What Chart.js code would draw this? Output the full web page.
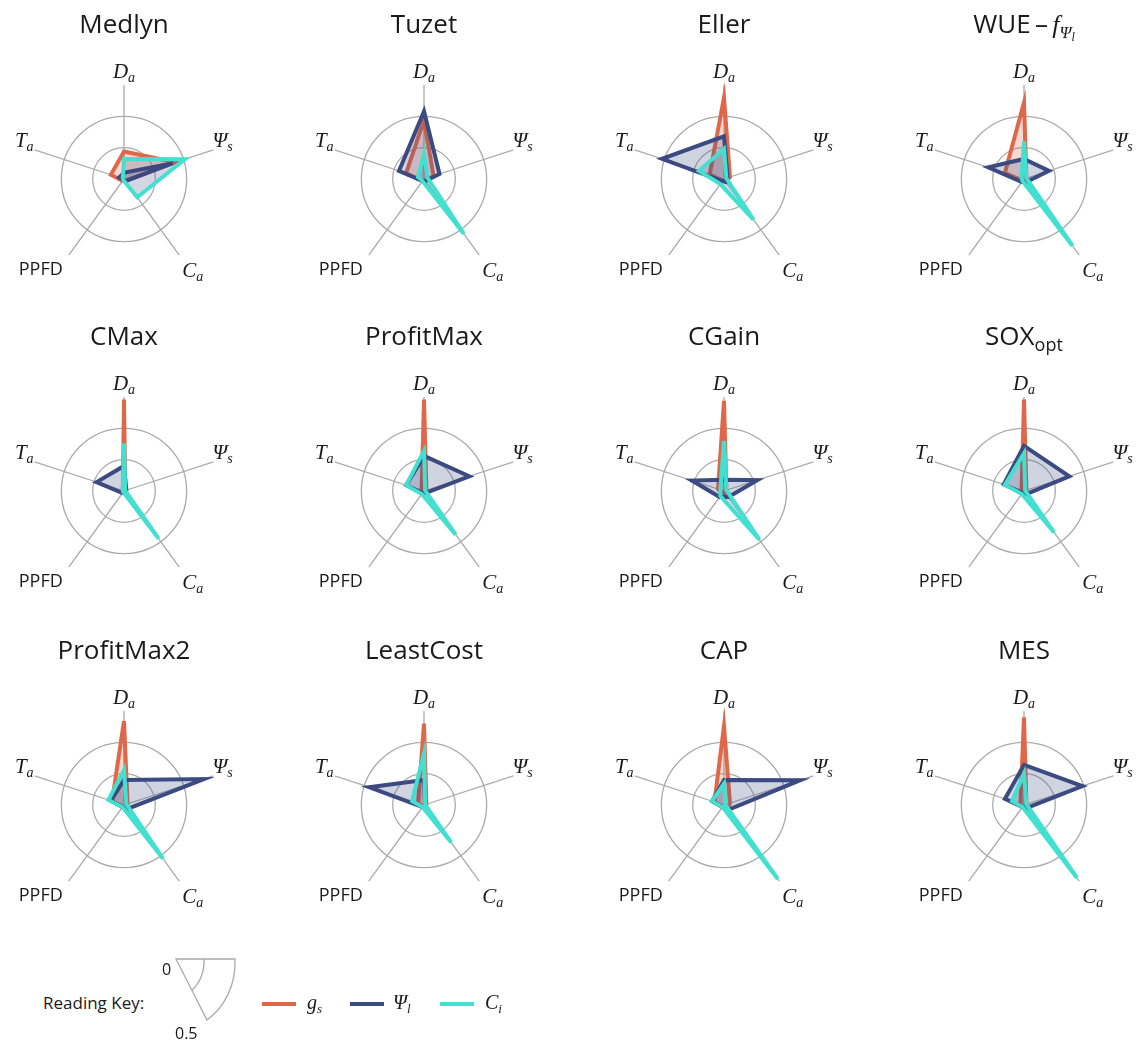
<!DOCTYPE html>
<html>
<head>
<meta charset="utf-8">
<script src="https://cdn.jsdelivr.net/npm/chart.js@4/dist/chart.umd.min.js"></script>
<style>
  html, body { margin: 0; padding: 0; background: #fff; }
  #page { position: relative; width: 1142px; height: 1043px; overflow: hidden;
          font-family: 'Open Sans', sans-serif; color: #1a1a1a; }
  #page canvas { position: absolute; }
  .title { position: absolute; width: 300px; text-align: center; font-size: 26px;
           line-height: 30px; white-space: nowrap; }
  .title .sub { font-size: 18px; position: relative; top: 6px; }
  .it { font-family: 'Liberation Serif', serif; font-style: italic; }
  .key { position: absolute; font-size: 17px; line-height: 22px; white-space: nowrap; }
  .swatch { position: absolute; width: 34px; height: 4px; }
  .lg { position: absolute; font-family: 'Liberation Serif', serif; font-style: italic;
        font-size: 20px; line-height: 22px; }
  .lg sub { font-size: 13px; vertical-align: baseline; position: relative; top: 4px; }
</style>
</head>
<body>
<div id="page"></div>
<script>
// Model names and their display titles
const models = ['Medlyn', 'Tuzet', 'Eller', 'WUE-fΨl', 'CMax', 'ProfitMax',
                'CGain', 'SOXopt', 'ProfitMax2', 'LeastCost', 'CAP', 'MES'];
const titles = ['Medlyn', 'Tuzet', 'Eller',
                'WUE\u2009\u2013\u2009<span class="it">f</span><span class="it" style="font-size:17px;position:relative;top:5px">Ψ<span style="font-size:12px;position:relative;top:3px">l</span></span>',
                'CMax', 'ProfitMax', 'CGain', 'SOX<span class="sub">opt</span>',
                'ProfitMax2', 'LeastCost', 'CAP', 'MES'];

// Radar axes (clockwise from the top): D_a, Ψ_s, C_a, PPFD, T_a
const axisMain = ['D', 'Ψ', 'C', 'PPFD', 'T'];
const axisSub  = ['a', 's', 'a', '', 'a'];

// Sensitivity of each output to each driver, one row per model
const gs = [
  [0.22, 0.43, 0.02, 0.02, 0.11],
  [0.47, 0.08, 0.02, 0.02, 0.15],
  [0.65, 0.05, 0.02, 0.02, 0.12],
  [0.61, 0.02, 0.02, 0.02, 0.16],
  [0.73, 0.01, 0.01, 0.01, 0.01],
  [0.73, 0.02, 0.02, 0.02, 0.02],
  [0.72, 0.02, 0.02, 0.02, 0.05],
  [0.73, 0.02, 0.02, 0.02, 0.02],
  [0.67, 0.03, 0.02, 0.02, 0.10],
  [0.65, 0.02, 0.02, 0.02, 0.05],
  [0.63, 0.05, 0.05, 0.02, 0.08],
  [0.70, 0.02, 0.02, 0.02, 0.03]
];
const psiL = [
  [0.05, 0.41, 0.02, 0.01, 0.04],
  [0.54, 0.13, 0.02, 0.02, 0.21],
  [0.34, 0.03, 0.03, 0.02, 0.52],
  [0.16, 0.21, 0.03, 0.03, 0.30],
  [0.20, 0.02, 0.02, 0.02, 0.23],
  [0.28, 0.38, 0.02, 0.02, 0.15],
  [0.09, 0.28, 0.06, 0.06, 0.27],
  [0.36, 0.38, 0.03, 0.02, 0.17],
  [0.20, 0.67, 0.04, 0.02, 0.11],
  [0.20, 0.01, 0.02, 0.02, 0.46],
  [0.20, 0.64, 0.05, 0.02, 0.10],
  [0.32, 0.49, 0.03, 0.02, 0.16]
];
const ci = [
  [0.16, 0.51, 0.18, 0.01, 0.01],
  [0.20, 0.03, 0.54, 0.02, 0.05],
  [0.24, 0.02, 0.40, 0.05, 0.21],
  [0.30, 0.02, 0.66, 0.02, 0.02],
  [0.38, 0.01, 0.47, 0.01, 0.01],
  [0.32, 0.01, 0.43, 0.03, 0.15],
  [0.40, 0.02, 0.48, 0.05, 0.03],
  [0.30, 0.01, 0.41, 0.03, 0.16],
  [0.28, 0.02, 0.53, 0.02, 0.13],
  [0.41, 0.01, 0.37, 0.02, 0.10],
  [0.17, 0.01, 0.73, 0.02, 0.10],
  [0.25, 0.02, 0.72, 0.02, 0.10]
];

// Radial scale: rings at 0.25 and 0.5, spokes out to 0.75
const rMax = 0.75;
const ringStep = 0.25;

// Styling
const colGs = '#e0684a', colPsi = '#3b4a80', colCi = '#42e0d0';
const fillGs = 'rgba(224,104,74,0.25)', fillPsi = 'rgba(59,74,128,0.24)', fillCi = 'rgba(59,74,128,0.22)';
const gridCol = '#ababab';
const colX = [124, 424, 724, 1024];
const rowY = [179, 491, 805];
const CAN = 300, PAD = 56;

// Axis labels drawn at the spoke ends, with subscripts
const labelPlace = [
  { align: 'center', dx: 0,  dy: -7 },
  { align: 'left',   dx: -1, dy: -3 },
  { align: 'left',   dx: 3,  dy: 22 },
  { align: 'right',  dx: -6, dy: 20 },
  { align: 'right',  dx: -1, dy: -3 }
];
const axisLabelPlugin = {
  id: 'axisLabels',
  afterDraw(chart) {
    const sc = chart.scales.r, ctx = chart.ctx;
    ctx.save();
    ctx.fillStyle = '#1a1a1a';
    ctx.textBaseline = 'alphabetic';
    ctx.textAlign = 'left';
    for (let i = 0; i < axisMain.length; i++) {
      const end = sc.getPointPosition(i, sc.drawingArea);
      const serif = axisSub[i] !== '';
      const mainFont = serif ? 'italic 21px "Liberation Serif"' : '18px "Open Sans"';
      const subFont = 'italic 14px "Liberation Serif"';
      ctx.font = mainFont;
      const w1 = ctx.measureText(axisMain[i]).width;
      ctx.font = subFont;
      const w2 = serif ? ctx.measureText(axisSub[i]).width : 0;
      const w = w1 + w2;
      const p = labelPlace[i];
      let x = end.x + p.dx;
      if (p.align === 'center') x -= w / 2;
      else if (p.align === 'right') x -= w;
      const y = end.y + p.dy;
      ctx.font = mainFont;
      ctx.fillText(axisMain[i], x, y);
      if (serif) {
        ctx.font = subFont;
        ctx.fillText(axisSub[i], x + w1, y + 4);
      }
    }
    ctx.restore();
  }
};

const page = document.getElementById('page');

models.forEach((name, k) => {
  const cx = colX[k % 4], cy = rowY[Math.floor(k / 4)];
  const cv = document.createElement('canvas');
  cv.width = CAN; cv.height = CAN;
  cv.style.left = (cx - CAN / 2) + 'px';
  cv.style.top = (cy - CAN / 2) + 'px';
  page.appendChild(cv);

  const t = document.createElement('div');
  t.className = 'title';
  t.style.left = (cx - 150) + 'px';
  t.style.top = (cy - 171) + 'px';
  t.innerHTML = titles[k];
  page.appendChild(t);

  new Chart(cv, {
    type: 'radar',
    data: {
      labels: axisMain.map((m, i) => m + axisSub[i]),
      datasets: [
        { label: 'Ci', data: ci[k], order: 1, borderColor: colCi, backgroundColor: fillCi, fill: true },
        { label: 'Ψl', data: psiL[k], order: 2, borderColor: colPsi, backgroundColor: fillPsi, fill: true },
        { label: 'gs', data: gs[k], order: 3, borderColor: colGs, backgroundColor: fillGs, fill: true }
      ]
    },
    options: {
      responsive: false,
      animation: false,
      layout: { padding: PAD },
      plugins: { legend: { display: false }, tooltip: { enabled: false } },
      elements: {
        point: { radius: 0, hoverRadius: 0 },
        line: { borderWidth: 4, tension: 0, borderJoinStyle: 'miter' }
      },
      scales: {
        r: {
          min: 0, max: rMax,
          ticks: { display: false, stepSize: ringStep },
          grid: {
            circular: true,
            lineWidth: 1.3,
            color: c => (c.tick && c.tick.value > rMax - 0.01) ? 'rgba(0,0,0,0)' : gridCol
          },
          angleLines: { display: true, color: gridCol, lineWidth: 1.3 },
          pointLabels: { display: false }
        }
      }
    },
    plugins: [axisLabelPlugin]
  });
});

// Reading key and legend
const key = document.createElement('div');
key.innerHTML = `
  <div class="key" style="left:43px;top:992px">Reading Key:</div>
  <svg style="position:absolute;left:0;top:940px" width="320" height="103">
    <path d="M176,19 L235,19 A60,68 0 0 1 207,80 Z" fill="none" stroke="#a9a9a9" stroke-width="1.3"/>
    <path d="M204,19 A28,35 0 0 1 192,50" fill="none" stroke="#a9a9a9" stroke-width="1.3"/>
  </svg>
  <div class="key" style="left:162px;top:958px;font-size:16px">0</div>
  <div class="key" style="left:175px;top:1022px;font-size:16px">0.5</div>
  <div class="swatch" style="left:262px;top:1002px;background:${colGs}"></div>
  <div class="lg" style="left:307px;top:991px">g<sub>s</sub></div>
  <div class="swatch" style="left:350px;top:1002px;background:${colPsi}"></div>
  <div class="lg" style="left:393px;top:991px">Ψ<sub>l</sub></div>
  <div class="swatch" style="left:440px;top:1002px;background:${colCi}"></div>
  <div class="lg" style="left:485px;top:991px">C<sub>i</sub></div>
`;
page.appendChild(key);
</script>
</body>
</html>
